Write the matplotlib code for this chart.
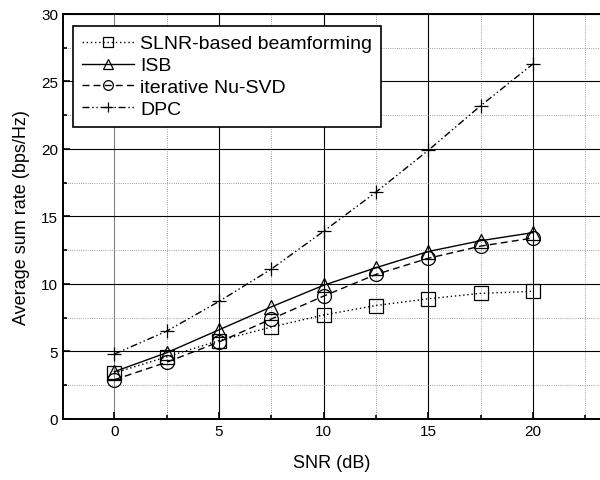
import matplotlib
matplotlib.use("Agg")
import matplotlib.pyplot as plt
from matplotlib.ticker import MultipleLocator

plt.rcParams['font.family'] = ['Liberation Sans', 'DejaVu Sans']

snr = [0, 2.5, 5, 7.5, 10, 12.5, 15, 17.5, 20]
slnr = [3.4, 4.6, 5.8, 6.8, 7.7, 8.4, 8.9, 9.3, 9.45]
isb = [3.5, 4.9, 6.6, 8.3, 9.9, 11.2, 12.4, 13.2, 13.8]
nusvd = [2.9, 4.2, 5.7, 7.4, 9.1, 10.7, 11.9, 12.8, 13.4]
dpc = [4.8, 6.5, 8.7, 11.1, 13.9, 16.8, 19.9, 23.2, 26.3]

fig = plt.figure(figsize=(6, 4.81), dpi=100)
ax = fig.add_axes([0.105, 0.127, 0.895, 0.842])

mk = dict(color='black', markerfacecolor='none', markeredgecolor='black',
          linewidth=1.0, markersize=10, markeredgewidth=0.9)
ax.plot(snr, slnr, linestyle=(0, (1, 2)), marker='s', label='SLNR-based beamforming', **mk)
ax.plot(snr, isb, linestyle='-', marker='^', label='ISB', **mk)
ax.plot(snr, nusvd, linestyle=(0, (5, 3)), marker='o', label='iterative Nu-SVD', **mk)
ax.plot(snr, dpc, linestyle=(0, (5, 2, 1, 2, 1, 2)), marker='+', label='DPC', **mk)

ax.set_xlim(-2.45, 23.2)
ax.set_ylim(0, 30)
ax.xaxis.set_major_locator(MultipleLocator(5))
ax.xaxis.set_minor_locator(MultipleLocator(2.5))
ax.yaxis.set_major_locator(MultipleLocator(5))
ax.yaxis.set_minor_locator(MultipleLocator(2.5))
ax.grid(which='major', color='black', linewidth=0.8)
ax.grid(which='minor', color='gray', linewidth=0.6, linestyle=':')
ax.get_xgridlines()[1].set_color('gray')
ax.tick_params(which='both', direction='in', labelsize=11, width=1.2)
ax.tick_params(which='major', length=5)
ax.tick_params(which='minor', length=3)
ax.spines['right'].set_visible(False)
for s in ['left', 'bottom', 'top']:
    ax.spines[s].set_linewidth(1.4)

ax.set_xlabel('SNR (dB)', fontsize=13, labelpad=12)
ax.set_ylabel('Average sum rate (bps/Hz)', fontsize=13, labelpad=8)

leg = ax.legend(loc='upper left', bbox_to_anchor=(0.019, 0.97), borderaxespad=0,
                fontsize=14, fancybox=False, edgecolor='black', framealpha=1,
                handlelength=2.7, handletextpad=0.3, borderpad=0.45,
                labelspacing=0.22, markerscale=0.7)
leg.get_frame().set_linewidth(1.2)

fig.savefig('out.png', dpi=100)
